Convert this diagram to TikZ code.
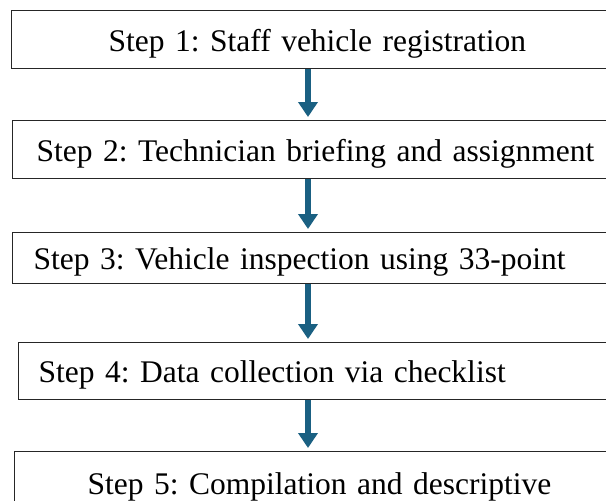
\documentclass[tikz,border=0pt]{standalone}
\usepackage{fontspec}
\setmainfont{Liberation Serif}
\usetikzlibrary{arrows.meta}
\definecolor{arrowblue}{RGB}{26,96,130}
\frenchspacing
\begin{document}
\begin{tikzpicture}[x=1pt,y=-1pt,
  stepbox/.style={draw=black!85, line width=1.2pt, anchor=north west, align=left,
    text width=660pt, font=\fontsize{31.5}{34}\selectfont\frenchspacing,
    inner ysep=0pt, text height=26pt, text depth=3pt},
  flowarrow/.style={draw=arrowblue, line width=6pt,
    -{Triangle[width=19pt,length=15pt]}, shorten >=3pt}]
\clip (0,0) rectangle (606,501);
\fill[white] (0,0) rectangle (606,501);
\node[stepbox, minimum height=58pt, inner xsep=97pt] (s1) at (11,10) {Step 1: Staff vehicle registration};
\node[stepbox, minimum height=58pt, inner xsep=24pt] (s2) at (12,120) {Step 2: Technician briefing and assignment};
\node[stepbox, minimum height=51pt, inner xsep=21pt] (s3) at (12,232) {Step 3: Vehicle inspection using 33-point};
\node[stepbox, minimum height=57pt, inner xsep=20pt] (s4) at (18,342) {Step 4: Data collection via checklist};
\node[stepbox, minimum height=62pt, inner xsep=73pt] (s5) at (14,451) {Step 5: Compilation and descriptive};
\coordinate (ax) at (308,0);
\draw[flowarrow] (s1.south -| ax) -- (s2.north -| ax);
\draw[flowarrow] (s2.south -| ax) -- (s3.north -| ax);
\draw[flowarrow] (s3.south -| ax) -- (s4.north -| ax);
\draw[flowarrow] (s4.south -| ax) -- (s5.north -| ax);
\end{tikzpicture}
\end{document}
